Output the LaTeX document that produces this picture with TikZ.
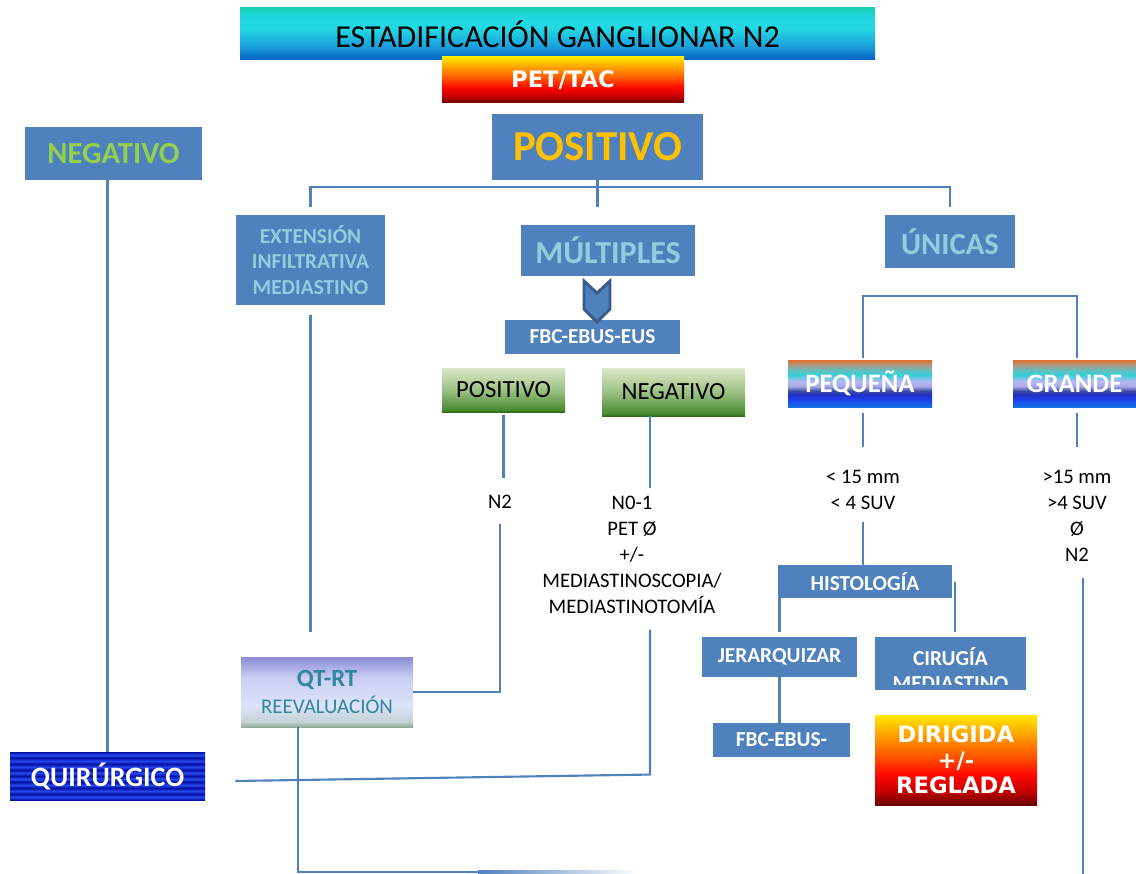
\documentclass[tikz,border=0pt]{standalone}
\usepackage{fontspec}
\setmainfont{Carlito}
\newfontfamily\anchafont{DejaVu Sans}

\newcommand\tam[2]{\fontsize{#1}{#2}\selectfont}

\definecolor{azul}{HTML}{4F81BD}
\definecolor{azuloscuro}{HTML}{385D8A}
\definecolor{celeste}{HTML}{93CDDD}
\definecolor{verdelima}{HTML}{92D050}
\definecolor{ambar}{HTML}{FFC000}
\definecolor{petroleo}{HTML}{31859C}

% colores de los degradados
\definecolor{cianA}{HTML}{18CFB2}
\definecolor{cianB}{HTML}{22D8E2}
\definecolor{cianC}{HTML}{1A9EDC}
\definecolor{cianD}{HTML}{0560C2}
\definecolor{fuegoA}{HTML}{FFE800}
\definecolor{fuegoB}{HTML}{FF9A00}
\definecolor{fuegoC}{HTML}{FF5500}
\definecolor{fuegoD}{HTML}{FF0800}
\definecolor{fuegoE}{HTML}{C80000}
\definecolor{fuegoF}{HTML}{6A0000}
\definecolor{verdeA}{HTML}{DCE8C8}
\definecolor{verdeB}{HTML}{9CC184}
\definecolor{verdeC}{HTML}{4A8C34}
\definecolor{verdeD}{HTML}{2D6E1A}
\definecolor{lilaA}{HTML}{8C8CD2}
\definecolor{lilaB}{HTML}{CBD0F4}
\definecolor{lilaC}{HTML}{DCE3FA}
\definecolor{lilaD}{HTML}{C4D4D8}
\definecolor{lilaE}{HTML}{93AC98}
\definecolor{arcoA}{HTML}{E26E30}
\definecolor{arcoB}{HTML}{B09880}
\definecolor{arcoC}{HTML}{60C0C0}
\definecolor{arcoD}{HTML}{38D0D8}
\definecolor{arcoE}{HTML}{B8B8F4}
\definecolor{arcoF}{HTML}{A8A8E8}
\definecolor{arcoG}{HTML}{3A4AA0}
\definecolor{arcoH}{HTML}{2030C0}
\definecolor{arcoI}{HTML}{2040F0}
\definecolor{arcoJ}{HTML}{1470E0}
\definecolor{franjaos}{HTML}{0010A0}
\definecolor{franjacl}{HTML}{2848F0}

\pgfdeclareverticalshading{cian}{100bp}{color(0bp)=(cianD); color(25bp)=(cianD);
  color(38bp)=(cianC); color(55bp)=(cianB); color(66bp)=(cianB); color(75bp)=(cianA); color(100bp)=(cianA)}
\pgfdeclareverticalshading{fuego}{100bp}{color(0bp)=(fuegoF); color(25bp)=(fuegoF);
  color(33bp)=(fuegoE); color(42bp)=(fuegoD); color(52bp)=(fuegoC); color(63bp)=(fuegoB);
  color(75bp)=(fuegoA); color(100bp)=(fuegoA)}
\pgfdeclareverticalshading{verde}{100bp}{color(0bp)=(verdeD); color(25bp)=(verdeD);
  color(28bp)=(verdeC); color(50bp)=(verdeB); color(75bp)=(verdeA); color(100bp)=(verdeA)}
\pgfdeclareverticalshading{lila}{100bp}{color(0bp)=(lilaE); color(25bp)=(lilaE);
  color(29bp)=(lilaD); color(40bp)=(lilaC); color(60bp)=(lilaB); color(75bp)=(lilaA); color(100bp)=(lilaA)}
\pgfdeclareverticalshading{arcoiris}{100bp}{color(0bp)=(arcoJ); color(25bp)=(arcoJ);
  color(33bp)=(arcoI); color(38bp)=(arcoH); color(42bp)=(arcoG); color(47bp)=(arcoF);
  color(52bp)=(arcoE); color(59bp)=(arcoD); color(64bp)=(arcoC); color(70bp)=(arcoB);
  color(75bp)=(arcoA); color(100bp)=(arcoA)}
\pgfdeclareverticalshading{franjas}{100bp}{color(0bp)=(franjaos); color(25bp)=(franjaos);
  color(28.125bp)=(franjacl); color(31.25bp)=(franjaos); color(34.375bp)=(franjacl);
  color(37.5bp)=(franjaos); color(40.625bp)=(franjacl); color(43.75bp)=(franjaos);
  color(46.875bp)=(franjacl); color(50bp)=(franjaos); color(53.125bp)=(franjacl);
  color(56.25bp)=(franjaos); color(59.375bp)=(franjacl); color(62.5bp)=(franjaos);
  color(65.625bp)=(franjacl); color(68.75bp)=(franjaos); color(71.875bp)=(franjacl);
  color(75bp)=(franjaos); color(100bp)=(franjaos)}

\tikzset{
    caja/.style={rectangle, fill=azul, inner sep=0pt, align=center, text=white, font=\bfseries\tam{16}{19}},
    titulo/.style={rectangle, shade, shading=cian, inner sep=0pt, font=\tam{24}{28}},
    llama/.style={rectangle, shade, shading=fuego, inner sep=0pt, align=center, text=white, font=\anchafont\bfseries\tam{17}{19}},
    hoja/.style={rectangle, shade, shading=verde, inner sep=0pt, font=\tam{18.5}{22}},
    tamano/.style={rectangle, shade, shading=arcoiris, inner sep=0pt, text=white, font=\bfseries\tam{20}{24}},
    dato/.style={inner sep=0pt, align=center, font=\tam{15.5}{19.5}},
    linea/.style={draw=azul, line width=1.6pt}
}

\begin{document}
\begin{tikzpicture}[x=0.75pt, y=-0.75pt]
    \useasboundingbox (0,0) rectangle (1136,874);

    \path node[titulo, minimum width=476.25pt, minimum height=39pt] (titulo) at (557.5,34) {ESTADIFICACIÓN GANGLIONAR N2}
        node[llama, minimum width=181.5pt, minimum height=34.5pt] (pet) at (563,80) {PET/TAC}
        node[caja, text=verdelima, font=\bfseries\tam{23}{27}, minimum width=132.75pt, minimum height=39.75pt] (neg) at (113.5,153.5) {NEGATIVO}
        node[caja, text=ambar, font=\bfseries\tam{32}{36}, minimum width=158.25pt, minimum height=49.5pt] (pos) at (597.5,147) {POSITIVO}
        node[caja, text=celeste, minimum width=111.75pt, minimum height=67.5pt] (ext) at (310.5,260) {EXTENSIÓN\\INFILTRATIVA\\MEDIASTINO}
        node[caja, text=celeste, font=\bfseries\tam{24}{28}, minimum width=130.5pt, minimum height=38.25pt] (mult) at (608,250.5) {MÚLTIPLES}
        node[caja, text=celeste, font=\bfseries\tam{23}{27}, minimum width=97.5pt, minimum height=39.75pt] (unicas) at (950,241.5) {ÚNICAS}
        node[caja, minimum width=131.25pt, minimum height=25.5pt] (fbc) at (592.5,337) {FBC-EBUS-EUS}
        node[hoja, minimum width=92.25pt, minimum height=33pt] (pverde) at (503.5,390) {POSITIVO}
        node[hoja, minimum width=107.25pt, minimum height=36pt] (nverde) at (673.5,392) {NEGATIVO}
        node[dato] (n2a) at (500,502) {N2}
        node[dato] (n01) at (632,554.5) {N0-1\\PET Ø\\+/-\\MEDIASTINOSCOPIA/\\MEDIASTINOTOMÍA}
        node[rectangle, shade, shading=lila, inner sep=0pt, align=center, text=petroleo, font=\tam{15.7}{20},
             minimum width=129pt, minimum height=52.5pt] (qtrt) at (327,692) {{\bfseries\tam{18.5}{20}QT-RT}\\REEVALUACIÓN}
        node[rectangle, shade, shading=franjas, inner sep=0pt, text=white, font=\bfseries\tam{21}{25},
             minimum width=146.25pt, minimum height=36pt] (quir) at (107.5,776) {QUIRÚRGICO}
        node[tamano, minimum width=108pt, minimum height=35.25pt] (peq) at (860,383.5) {PEQUEÑA}
        node[tamano, minimum width=92.25pt, minimum height=35.25pt] (grande) at (1074.5,383.5) {GRANDE}
        node[dato] (menor) at (863,489.5) {< 15 mm\\< 4 SUV}
        node[dato] (mayor) at (1077,516) {>15 mm\\>4 SUV\\Ø\\N2}
        node[caja, minimum width=130.5pt, minimum height=24.75pt] (hist) at (865,581.5) {HISTOLOGÍA}
        node[caja, minimum width=116.25pt, minimum height=30pt] (jer) at (779.5,657) {JERARQUIZAR}
        node[caja, minimum width=113.25pt, minimum height=39.75pt] (cir) at (950.5,663.5) {}
        node[caja, minimum width=102.75pt, minimum height=25.5pt] (fbc2) at (781.5,740) {FBC-EBUS-}
        node[llama, minimum width=121.5pt, minimum height=67.5pt] (dir) at (956,760) {DIRIGIDA\\+/-\\REGLADA};

    % texto de cirugia, cortado por la caja
    \begin{scope}
        \clip (cir.north west) rectangle ([yshift=4.5pt]cir.south east);
        \node[caja, fill=none] (cirtexto) at (950.5,669) {CIRUGÍA\\MEDIASTINO};
    \end{scope}

    % flecha bajo multiples
    \coordinate (flecha) at (597,280);
    \filldraw[fill=azul, draw=azuloscuro, line width=2.2pt] (flecha) ++(-13,1) -- ++(13,12) -- ++(13,-12)
        -- ++(0,28) -- ++(-13,13) -- ++(-13,-13) -- cycle;

    % ramas de positivo
    \draw[linea] (pos.south) -- ++(0,27);
    \draw[linea] ([yshift=6pt]ext.north) |- ([yshift=-5.25pt]pos.south) -| ([yshift=6pt]unicas.north);

    % negativo
    \draw[linea] (neg.south -| quir.north) -- (quir.north);

    % extension
    \draw[linea, shorten <=7.5pt, shorten >=18.75pt] (ext.south) -- (ext.south |- qtrt.north);

    % multiples
    \draw[linea, shorten <=2.25pt, shorten >=12.75pt] (pverde.south) -- (pverde.south |- n2a.north);
    \draw[linea, shorten <=11.25pt] (n2a.south) |- (qtrt.east);
    \draw[linea, shorten >=5.25pt] ([xshift=-17.5pt]nverde.south) -- ([xshift=-17.5pt]nverde.south |- n01.north);
    \draw[linea, shorten <=12pt] ([xshift=13.5pt]n01.south) -- ++(0,161) -- ([xshift=22.5pt,yshift=-3.75pt]quir.east);

    % qt-rt hacia abajo, la linea se desvanece
    \coordinate (base) at (298,872);
    \draw[linea] (base |- qtrt.south) -- (base) -- ++(180,0) coordinate (fundido);
    \shade[left color=azul, right color=white] ([yshift=0.8pt]fundido) rectangle ++(160,2.13);

    % unicas
    \draw[linea] ([yshift=1.5pt]peq.north -| menor.north) -- ++(0,-62) -| ([yshift=1.5pt]grande.north -| mayor.north);
    \draw[linea, shorten <=4.5pt, shorten >=17.25pt] (menor.north |- peq.south) -- (menor.north);
    \draw[linea, shorten <=9.75pt] (menor.south) -- (menor.south |- hist.north);
    \draw[linea, shorten <=4.5pt, shorten >=17.25pt] (mayor.north |- grande.south) -- (mayor.north);
    \coordinate (fondo) at (1083,874);
    \draw[linea, shorten <=12pt] (fondo |- mayor.south) -- (fondo);

    % histologia
    \draw[linea, shorten >=3.75pt] (jer.north |- hist.center) -- (jer.north);
    \draw[linea, shorten >=3.75pt] ([xshift=2.25pt]hist.east) -- ([xshift=2.25pt]hist.east |- cir.north);
    \draw[linea] ([yshift=3.75pt]jer.south) -- (jer.south |- fbc2.north);
\end{tikzpicture}
\end{document}
